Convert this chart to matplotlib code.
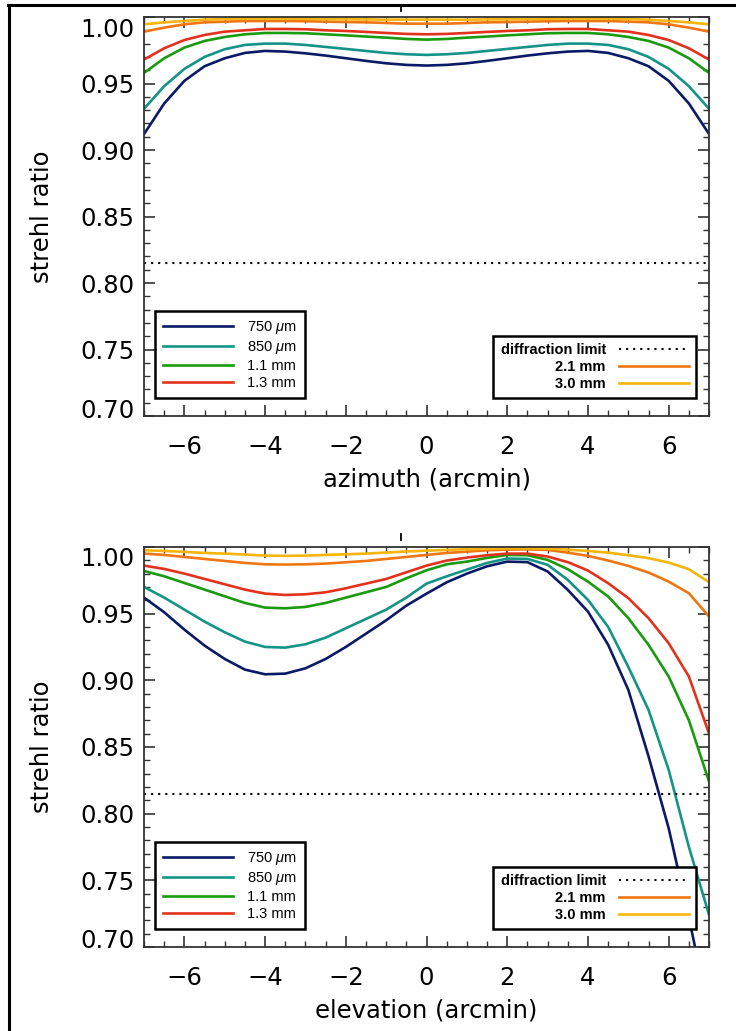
import numpy as np
import matplotlib
matplotlib.use('Agg')
import matplotlib.pyplot as plt
import matplotlib.transforms as mtransforms
from matplotlib.lines import Line2D

plt.rcParams['font.family'] = 'DejaVu Sans'
plt.rcParams['mathtext.fontset'] = 'custom'
plt.rcParams['mathtext.it'] = 'Liberation Sans:italic'
plt.rcParams['mathtext.rm'] = 'Liberation Sans'

# DATOS: strehl ratio vs offset del campo (arcmin), paso 0.5
offset = np.arange(-7, 7.01, 0.5)

# azimuth
az_750 = [0.912, 0.935, 0.952, 0.963, 0.969, 0.973, 0.9745, 0.974, 0.9727, 0.971, 0.969, 0.967, 0.9652, 0.964, 0.9635,
          0.964, 0.9652, 0.967, 0.969, 0.971, 0.9727, 0.974, 0.9745, 0.973, 0.969, 0.963, 0.952, 0.935, 0.912]
az_850 = [0.931, 0.948, 0.961, 0.970, 0.9758, 0.979, 0.980, 0.980, 0.979, 0.9775, 0.976, 0.9745, 0.973, 0.972, 0.9715,
          0.972, 0.973, 0.9745, 0.976, 0.9775, 0.979, 0.980, 0.980, 0.979, 0.9758, 0.970, 0.961, 0.948, 0.931]
az_1100 = [0.958, 0.969, 0.977, 0.982, 0.985, 0.987, 0.988, 0.988, 0.9878, 0.987, 0.9862, 0.9853, 0.9845, 0.9835, 0.983,
           0.9835, 0.9845, 0.9853, 0.9862, 0.987, 0.9878, 0.988, 0.988, 0.987, 0.985, 0.982, 0.977, 0.969, 0.958]
az_1300 = [0.968, 0.9765, 0.9827, 0.9865, 0.989, 0.990, 0.991, 0.991, 0.9908, 0.990, 0.9895, 0.9888, 0.988, 0.9873, 0.987,
           0.9873, 0.988, 0.9888, 0.9895, 0.990, 0.9908, 0.991, 0.991, 0.990, 0.989, 0.9865, 0.9827, 0.9765, 0.968]
az_2100 = [0.989, 0.992, 0.9945, 0.996, 0.9965, 0.997, 0.997, 0.997, 0.9968, 0.9965, 0.9962, 0.996, 0.9955, 0.995, 0.995,
           0.995, 0.9955, 0.996, 0.9962, 0.9965, 0.9968, 0.997, 0.997, 0.997, 0.9965, 0.996, 0.9945, 0.992, 0.989]
az_3000 = [0.9945, 0.996, 0.997, 0.998, 0.9985, 0.9988, 0.9988, 0.9988, 0.9987, 0.9985, 0.9983, 0.9982, 0.998, 0.998, 0.998,
           0.998, 0.998, 0.9982, 0.9983, 0.9985, 0.9987, 0.9988, 0.9988, 0.9988, 0.9985, 0.998, 0.997, 0.996, 0.9945]

# elevation
el_750 = [0.962, 0.951, 0.938, 0.926, 0.916, 0.908, 0.9045, 0.905, 0.909, 0.916, 0.925, 0.935, 0.945, 0.956, 0.965,
          0.9735, 0.980, 0.9855, 0.989, 0.9886, 0.9816, 0.9678, 0.9515, 0.9266, 0.8928, 0.843, 0.789, 0.722, 0.650]
el_850 = [0.970, 0.962, 0.953, 0.944, 0.936, 0.929, 0.925, 0.9245, 0.927, 0.932, 0.939, 0.946, 0.953, 0.962, 0.9725,
          0.978, 0.983, 0.988, 0.9913, 0.991, 0.9866, 0.9753, 0.9603, 0.940, 0.910, 0.8778, 0.8328, 0.775, 0.724]
el_1100 = [0.982, 0.978, 0.973, 0.968, 0.963, 0.958, 0.9545, 0.954, 0.955, 0.958, 0.962, 0.966, 0.970, 0.9765, 0.9825,
           0.987, 0.989, 0.9918, 0.994, 0.9938, 0.9903, 0.9833, 0.974, 0.9628, 0.9466, 0.9266, 0.9028, 0.870, 0.824]
el_1300 = [0.986, 0.9835, 0.980, 0.976, 0.972, 0.968, 0.965, 0.964, 0.9645, 0.966, 0.969, 0.9725, 0.976, 0.981, 0.986,
           0.9898, 0.992, 0.9938, 0.995, 0.995, 0.9928, 0.9886, 0.9823, 0.9728, 0.9616, 0.9466, 0.9278, 0.9028, 0.860]
el_2100 = [0.995, 0.994, 0.9925, 0.991, 0.9895, 0.988, 0.987, 0.9868, 0.987, 0.9875, 0.9885, 0.9895, 0.991, 0.9925, 0.994,
           0.9955, 0.9965, 0.9975, 0.998, 0.9982, 0.9978, 0.9957, 0.9933, 0.9898, 0.9858, 0.9808, 0.974, 0.9653, 0.9478]
el_3000 = [0.9975, 0.997, 0.9963, 0.9955, 0.995, 0.9943, 0.9935, 0.9933, 0.9935, 0.994, 0.9945, 0.995, 0.9958, 0.9966, 0.9972,
           0.9978, 0.9983, 0.9987, 0.999, 0.999, 0.9987, 0.998, 0.997, 0.9957, 0.9938, 0.9916, 0.9883, 0.9833, 0.9736]

diffraction_limit = 0.815

labels = [r'750 $\mu$m', r'850 $\mu$m', '1.1 mm', '1.3 mm', '2.1 mm', '3.0 mm']
colors = ['#0b1a66', '#139486', '#1a9a0e', '#e3321c', '#ef7613', '#f6b50c']
xticks = [-6, -4, -2, 0, 2, 4, 6]
yticks = [0.70, 0.75, 0.80, 0.85, 0.90, 0.95, 1.00]

paneles = [
    ('azimuth (arcmin)', [az_750, az_850, az_1100, az_1300, az_2100, az_3000]),
    ('elevation (arcmin)', [el_750, el_850, el_1100, el_1300, el_2100, el_3000]),
]

fig = plt.figure(figsize=(7.36, 10.31), dpi=100)
rects = [[0.1957, 0.5965, 0.7677, 0.3870], [0.1957, 0.0815, 0.7677, 0.3880]]

for rect, (xlabel, series) in zip(rects, paneles):
    ax = fig.add_axes(rect)
    lines = []
    for y, c, lab in zip(series, colors, labels):
        l, = ax.plot(offset, y, color=c, lw=1.9, label=lab)
        lines.append(l)
    dl, = ax.plot([-7, 7], [diffraction_limit] * 2, color='black', lw=1.5,
                  linestyle=(0, (1, 2.4)), label='diffraction limit')

    ax.set_xlim(-7, 7)
    ax.set_ylim(0.70, 1.00)
    ax.set_xticks(xticks)
    ax.set_xticklabels([str(t).replace('-', '\u2212') for t in xticks])
    ax.set_yticks(yticks)
    ax.set_yticklabels(['%.2f' % t for t in yticks])
    ax.set_xticks(np.arange(-7, 7.01, 0.5), minor=True)
    ax.set_yticks(np.arange(0.70, 1.001, 0.01), minor=True)
    ax.tick_params(which='both', direction='in', top=True, right=True, color='#333333')
    ax.tick_params(which='major', length=8, width=1.2, labelsize=17.5)
    ax.tick_params(which='minor', length=4, width=1.0)
    ax.tick_params(axis='x', pad=14)
    ax.tick_params(axis='y', pad=7)
    for s in ax.spines.values():
        s.set_color('#333333')
        s.set_linewidth(1.3)

    ax.set_xlabel(xlabel, fontsize=17.5)
    ax.set_ylabel('strehl ratio', fontsize=17.5)
    ax.xaxis.set_label_coords(0.5, -0.13)
    ax.yaxis.set_label_coords(-0.16, 0.5)

    # las etiquetas de los extremos van desplazadas hacia dentro
    ticks = ax.yaxis.get_major_ticks()
    for t, dy in [(ticks[0], 8), (ticks[-1], -10)]:
        t.label1.set_transform(t.label1.get_transform() +
                               mtransforms.ScaledTranslation(0, dy / 100, fig.dpi_scale_trans))

    leg1 = ax.legend(handles=lines[:4], loc='lower left', bbox_to_anchor=(0.019, 0.045),
                     borderaxespad=0, handlelength=4.8, handletextpad=1.0,
                     labelspacing=0.2, borderpad=0.55, fancybox=False, framealpha=1,
                     edgecolor='black', prop={'family': 'Liberation Sans', 'size': 10.5})
    leg1.get_frame().set_linewidth(1.8)
    ax.add_artist(leg1)
    leg2 = ax.legend(handles=[dl] + lines[4:], loc='lower left', bbox_to_anchor=(0.618, 0.045),
                     borderaxespad=0, handlelength=4.8, handletextpad=0.9,
                     labelspacing=0.2, borderpad=0.5, fancybox=False, framealpha=1,
                     edgecolor='black', markerfirst=False,
                     prop={'family': 'Liberation Sans', 'weight': 'bold', 'size': 10.5})
    leg2.get_frame().set_linewidth(1.8)

# marco exterior y marcas sueltas
fig.add_artist(Line2D([8 / 736, 1], [1 - 5 / 1031] * 2, transform=fig.transFigure, color='black', lw=2.2))
fig.add_artist(Line2D([9 / 736] * 2, [0, 1 - 5 / 1031], transform=fig.transFigure, color='black', lw=2.2))
fig.add_artist(Line2D([401 / 736] * 2, [1 - 6 / 1031, 1 - 11 / 1031], transform=fig.transFigure, color='black', lw=1.3))
fig.add_artist(Line2D([401 / 736] * 2, [1 - 534 / 1031, 1 - 540 / 1031], transform=fig.transFigure, color='black', lw=1.3))

plt.savefig('out.png', dpi=100)
